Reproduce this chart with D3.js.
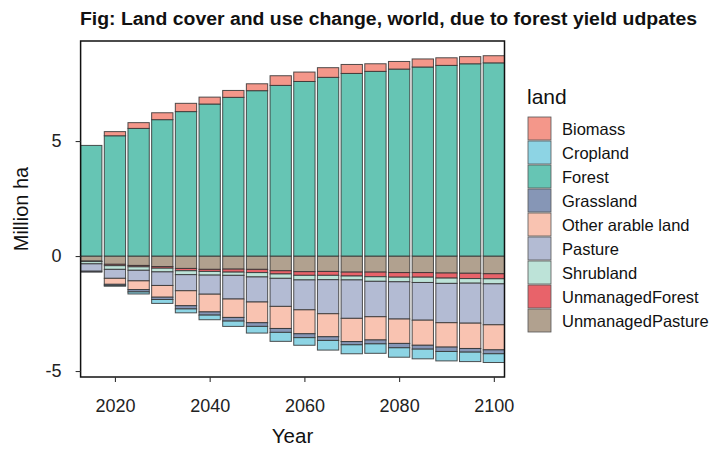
<!DOCTYPE html>
<html><head><meta charset="utf-8">
<script src="https://cdn.jsdelivr.net/npm/d3@7"></script>
<style>body{margin:0;background:#fff}svg{display:block;font-family:"Liberation Sans",Arial,sans-serif}</style>
</head><body><svg id="c" width="712" height="452"></svg>
<script>
const years = [2015,2020,2025,2030,2035,2040,2045,2050,2055,2060,2065,2070,2075,2080,2085,2090,2095,2100];
const biomass = [0.0,0.18,0.25,0.30,0.36,0.30,0.30,0.30,0.42,0.41,0.42,0.39,0.33,0.33,0.35,0.33,0.31,0.31];
const cropland = [0,-0.02,-0.09,-0.17,-0.17,-0.20,-0.23,-0.29,-0.39,-0.33,-0.42,-0.39,-0.41,-0.41,-0.42,-0.41,-0.41,-0.38];
const forest = [4.81,5.23,5.55,5.93,6.28,6.61,6.90,7.19,7.42,7.59,7.77,7.94,8.03,8.13,8.22,8.29,8.36,8.40];
const grassland = [-0.04,-0.06,-0.10,-0.10,-0.14,-0.14,-0.16,-0.16,-0.17,-0.17,-0.16,-0.14,-0.17,-0.19,-0.17,-0.19,-0.16,-0.17];
const otherArable = [0,-0.26,-0.38,-0.51,-0.65,-0.77,-0.80,-0.90,-0.96,-1.04,-1.00,-1.01,-1.01,-1.06,-1.09,-1.06,-1.10,-1.09];
const pasture = [-0.32,-0.39,-0.46,-0.59,-0.70,-0.83,-1.03,-1.09,-1.22,-1.30,-1.48,-1.67,-1.54,-1.62,-1.64,-1.71,-1.74,-1.78];
const shrubland = [-0.10,-0.16,-0.15,-0.16,-0.17,-0.16,-0.14,-0.19,-0.19,-0.20,-0.19,-0.17,-0.20,-0.20,-0.23,-0.23,-0.20,-0.22];
const unmanagedForest = [-0.02,-0.06,-0.06,-0.07,-0.10,-0.09,-0.13,-0.14,-0.14,-0.16,-0.17,-0.17,-0.20,-0.20,-0.20,-0.22,-0.23,-0.22];
const unmanagedPasture = [-0.22,-0.36,-0.41,-0.46,-0.54,-0.58,-0.57,-0.58,-0.64,-0.68,-0.67,-0.70,-0.70,-0.72,-0.72,-0.74,-0.75,-0.77];

const landNames = ["Biomass","Cropland","Forest","Grassland","Other arable land","Pasture","Shrubland","UnmanagedForest","UnmanagedPasture"];
const landColors = ["#F4978A","#8DD4E4","#66C5B4","#8696B6","#F9C3B1","#B3BBD3","#BDE3D8","#E8636A","#B1A18F"];
const xTicks = [2020,2040,2060,2080,2100];
const yTicks = [-5,0,5];

const series = [biomass,cropland,forest,grassland,otherArable,pasture,shrubland,unmanagedForest,unmanagedPasture];
const rows = years.map((y,i)=>{const r={year:y}; landNames.forEach((n,k)=>r[n]=series[k][i]); return r;});

const svg = d3.select("#c");
const L=80.6,R=504.5,T=41,B=377;
const x = d3.scaleLinear().domain([2012.75,2102.25]).range([L,R]);
const y = d3.scaleLinear().domain([-5.26,9.35]).range([B,T]);
const color = d3.scaleOrdinal().domain(landNames).range(landColors);

const stack = d3.stack().keys(landNames.slice().reverse()).offset(d3.stackOffsetDiverging);
const stacked = stack(rows);
const bw = x(2017.25)-x(2012.75);

svg.append("g").selectAll("g").data(stacked).join("g")
  .attr("fill",d=>color(d.key))
  .selectAll("rect").data(d=>d).join("rect")
  .attr("x",d=>x(d.data.year)-bw/2).attr("width",bw)
  .attr("y",d=>y(Math.max(d[0],d[1])))
  .attr("height",d=>Math.abs(y(d[0])-y(d[1])))
  .attr("stroke","#333").attr("stroke-width",1).attr("stroke-opacity",0.85);

svg.append("rect").attr("x",L).attr("y",T).attr("width",R-L).attr("height",B-T)
  .attr("fill","none").attr("stroke","#111").attr("stroke-width",1.5);

const xa = svg.append("g").attr("transform",`translate(0,${B})`)
  .call(d3.axisBottom(x).tickValues(xTicks).tickFormat(d3.format("d")).tickSize(5).tickPadding(17));
const ya = svg.append("g").attr("transform",`translate(${L},0)`)
  .call(d3.axisLeft(y).tickValues(yTicks).tickSize(5).tickPadding(14).tickFormat(d=>d<0?"-"+Math.abs(d):d));
[xa,ya].forEach(a=>{a.select(".domain").remove();
  a.selectAll(".tick line").attr("stroke","#333").attr("stroke-width",1.1);
  a.selectAll(".tick text").attr("fill","#222").style("font-size","18px").style("font-family","Liberation Sans, Arial, sans-serif");});

svg.append("text").attr("x",(L+R)/2).attr("y",443).attr("text-anchor","middle")
  .style("font-size","20.5px").attr("fill","#111").text("Year");
svg.append("text").attr("transform",`translate(28,${(T+B)/2}) rotate(-90)`).attr("text-anchor","middle")
  .style("font-size","20px").attr("fill","#111").text("Million ha");
svg.append("text").attr("x",80).attr("y",25).style("font-size","17.5px").style("font-weight","bold")
  .attr("textLength",617).attr("lengthAdjust","spacingAndGlyphs")
  .attr("fill","#111").text("Fig: Land cover and use change, world, due to forest yield udpates");

const lg = svg.append("g").attr("transform","translate(528,0)");
lg.append("text").attr("x",-1).attr("y",104).style("font-size","21px").attr("fill","#111").text("land");
landNames.forEach((n,i)=>{
  const yy=117+i*24;
  lg.append("rect").attr("x",0).attr("y",yy).attr("width",23).attr("height",23)
    .attr("fill",color(n)).attr("stroke","#555").attr("stroke-width",0.8);
  lg.append("text").attr("x",34).attr("y",yy+17.5).style("font-size",  "16.5px").attr("fill","#111").text(n);
});
</script></body></html>
